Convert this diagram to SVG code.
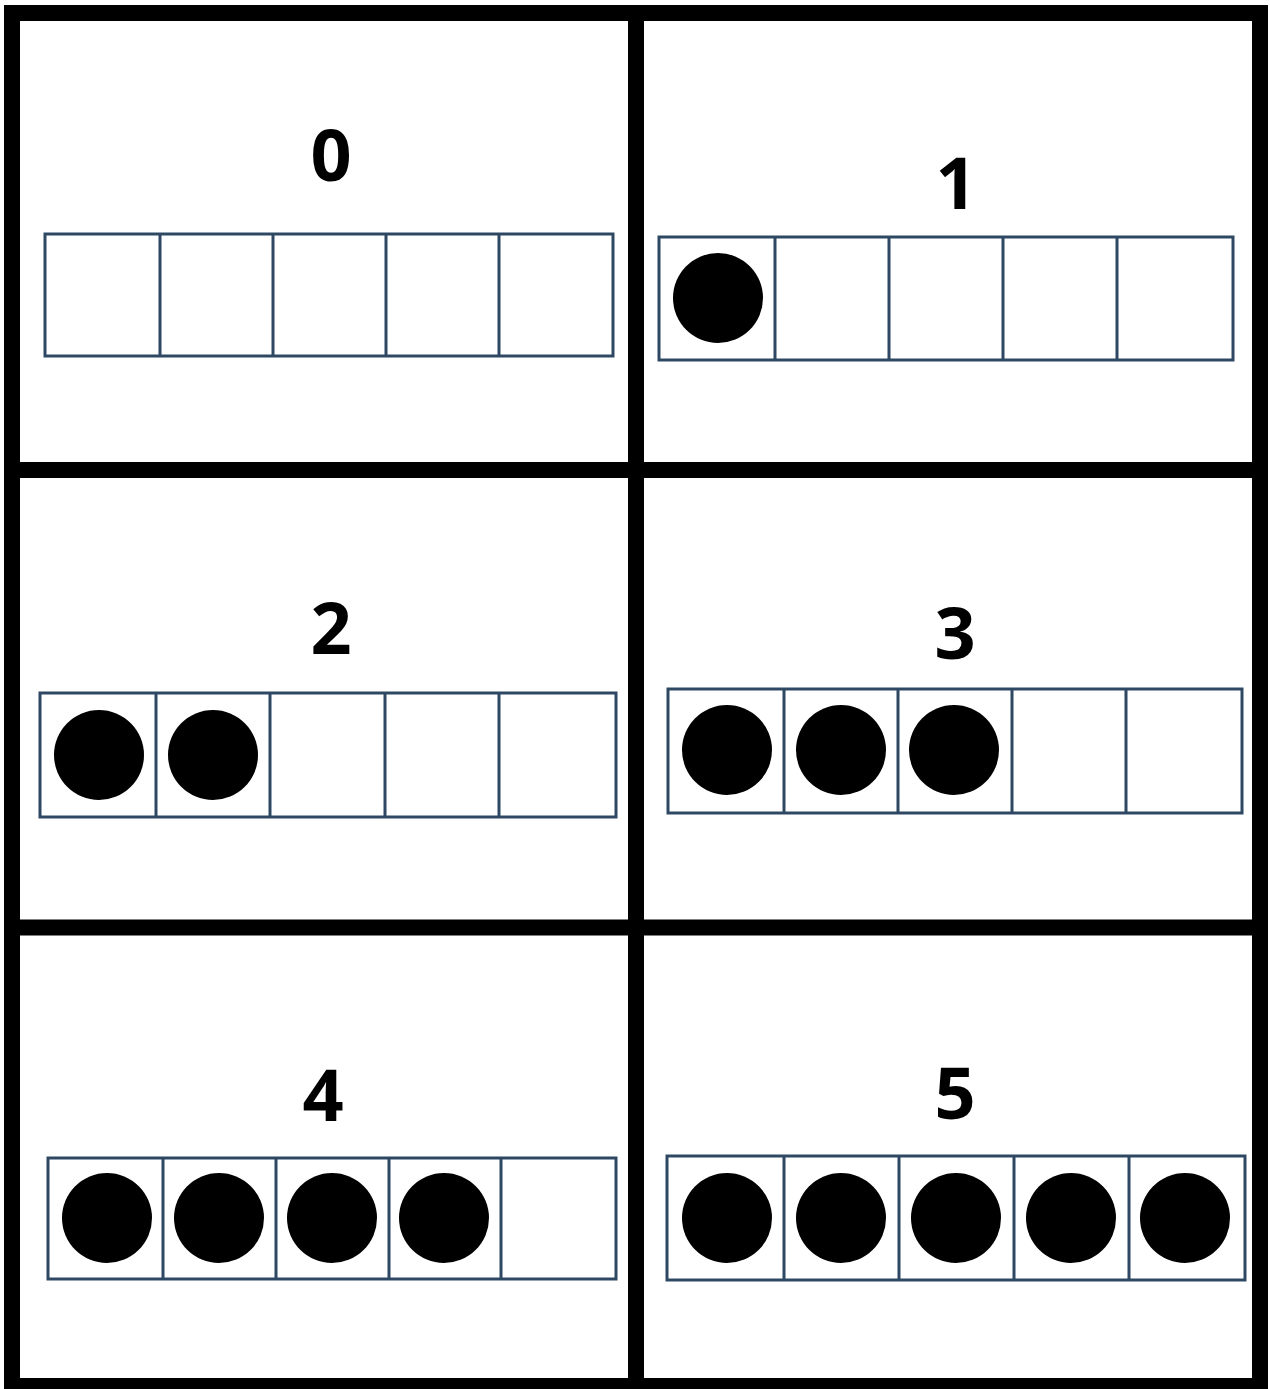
<svg xmlns="http://www.w3.org/2000/svg" width="1270" height="1389" viewBox="0 0 1270 1389">
<style>
.grid{fill:none;stroke:#000;stroke-width:16}
.frame{fill:#fff;stroke:#2e4863;stroke-width:3}
.cell{stroke:#2e4863;stroke-width:3}
.dot{fill:#000}
.num{font-family:"Open Sans","Liberation Sans",sans-serif;font-weight:bold;font-size:72px;text-anchor:middle;fill:#000}
</style>
<rect width="1270" height="1389" fill="#fff"/>
<g id="grid">
<rect class="grid" x="12" y="13" width="1248" height="1373"/>
<line class="grid" x1="636" y1="13" x2="636" y2="1386"/>
<line class="grid" x1="12" y1="470" x2="1260" y2="470"/>
<line class="grid" x1="12" y1="927.5" x2="1260" y2="927.5"/>
</g>
<g id="card0">
<text class="num" x="331" y="181">0</text>
<rect class="frame" x="45" y="234" width="568" height="122"/>
<path class="cell" d="M160 234V356M273 234V356M386 234V356M499 234V356"/>
</g>
<g id="card1">
<text class="num" x="956" y="209">1</text>
<rect class="frame" x="659" y="237" width="574" height="123"/>
<path class="cell" d="M775 237V360M889 237V360M1003 237V360M1117 237V360"/>
<circle class="dot" cx="718" cy="298" r="45"/>
</g>
<g id="card2">
<text class="num" x="331" y="654">2</text>
<rect class="frame" x="40" y="693" width="576" height="124"/>
<path class="cell" d="M156 693V817M270 693V817M385 693V817M499 693V817"/>
<circle class="dot" cx="99" cy="755" r="45"/>
<circle class="dot" cx="213" cy="755" r="45"/>
</g>
<g id="card3">
<text class="num" x="955" y="659">3</text>
<rect class="frame" x="668" y="689" width="574" height="124"/>
<path class="cell" d="M784 689V813M898 689V813M1012 689V813M1126 689V813"/>
<circle class="dot" cx="727" cy="750" r="45"/>
<circle class="dot" cx="841" cy="750" r="45"/>
<circle class="dot" cx="954" cy="750" r="45"/>
</g>
<g id="card4">
<text class="num" x="323" y="1121">4</text>
<rect class="frame" x="48" y="1158" width="568" height="121"/>
<path class="cell" d="M163 1158V1279M276 1158V1279M389 1158V1279M501 1158V1279"/>
<circle class="dot" cx="107" cy="1218" r="45"/>
<circle class="dot" cx="219" cy="1218" r="45"/>
<circle class="dot" cx="332" cy="1218" r="45"/>
<circle class="dot" cx="444" cy="1218" r="45"/>
</g>
<g id="card5">
<text class="num" x="955" y="1119">5</text>
<rect class="frame" x="667" y="1156" width="578" height="124"/>
<path class="cell" d="M784 1156V1280M899 1156V1280M1014 1156V1280M1129 1156V1280"/>
<circle class="dot" cx="727" cy="1218" r="45"/>
<circle class="dot" cx="841" cy="1218" r="45"/>
<circle class="dot" cx="956" cy="1218" r="45"/>
<circle class="dot" cx="1071" cy="1218" r="45"/>
<circle class="dot" cx="1185" cy="1218" r="45"/>
</g>
</svg>
